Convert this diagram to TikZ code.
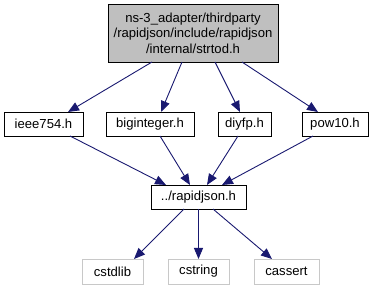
\documentclass[tikz,border=0pt]{standalone}
\usepackage{fontspec}
\setmainfont{Liberation Sans}
\usetikzlibrary{arrows.meta}
\definecolor{edgeblue}{HTML}{191970}
\definecolor{boxgray}{HTML}{BFBFBF}
\definecolor{sysgray}{HTML}{C8C8C8}
\begin{document}
\begin{tikzpicture}[x=1pt,y=-1pt,
  every node/.style={font=\fontsize{13.1}{15.5}\selectfont, inner sep=0pt, outer sep=0pt},
  filebox/.style={draw=black, line width=0.9pt, minimum height=24pt},
  sysbox/.style={draw=sysgray, line width=0.9pt, minimum height=25pt},
  dep/.style={draw=edgeblue, line width=0.9pt, -{Triangle[length=11pt,width=9pt]}}]
\useasboundingbox (0,0) rectangle (378,291);
\node[filebox, fill=boxgray, minimum width=170pt, minimum height=58pt, align=center]
  (strtod) at (193,33) {ns-3\_adapter/thirdparty\\/rapidjson/include/rapidjson\\/internal/strtod.h};
\node[filebox, minimum width=79pt] (ieee) at (43.5,124) {ieee754.h};
\node[filebox, minimum width=88pt] (bigint) at (150,124) {biginteger.h};
\node[filebox, minimum width=53pt] (diyfp) at (244.5,124) {diyfp.h};
\node[filebox, minimum width=66pt] (pow) at (335,124) {pow10.h};
\node[filebox, minimum width=95pt] (rj) at (198.5,197) {../rapidjson.h};
\node[sysbox, minimum width=61pt] (cstdlib) at (112.5,271.5) {cstdlib};
\node[sysbox, minimum width=61pt] (cstring) at (198.5,271.5) {cstring};
\node[sysbox, minimum width=65pt] (cassert) at (286.5,271.5) {cassert};
% strtod.h includes
\draw[dep] (strtod.south -| 152,0) -- (ieee.north -| 68,0);
\draw[dep] (strtod.south -| 182,0) -- (bigint.north -| 161,0);
\draw[dep] (strtod.south -| 215,0) -- (diyfp.north -| 240,0);
\draw[dep] (strtod.south -| 242,0) -- (pow.north -| 318,0);
% second level includes
\draw[dep] (ieee.south -| 70,0) -- (rj.north -| 166,0);
\draw[dep] (bigint.south -| 160,0) -- (rj.north -| 190,0);
\draw[dep] (diyfp.south -| 238,0) -- (rj.north -| 207,0);
\draw[dep] (pow.south -| 313,0) -- (rj.north -| 222,0);
% rapidjson.h includes
\draw[dep] (rj.south -| 184,0) -- (cstdlib.north -| 134,0);
\draw[dep] (rj) -- (cstring);
\draw[dep] (rj.south -| 213,0) -- (cassert.north -| 272,0);
\end{tikzpicture}
\end{document}
